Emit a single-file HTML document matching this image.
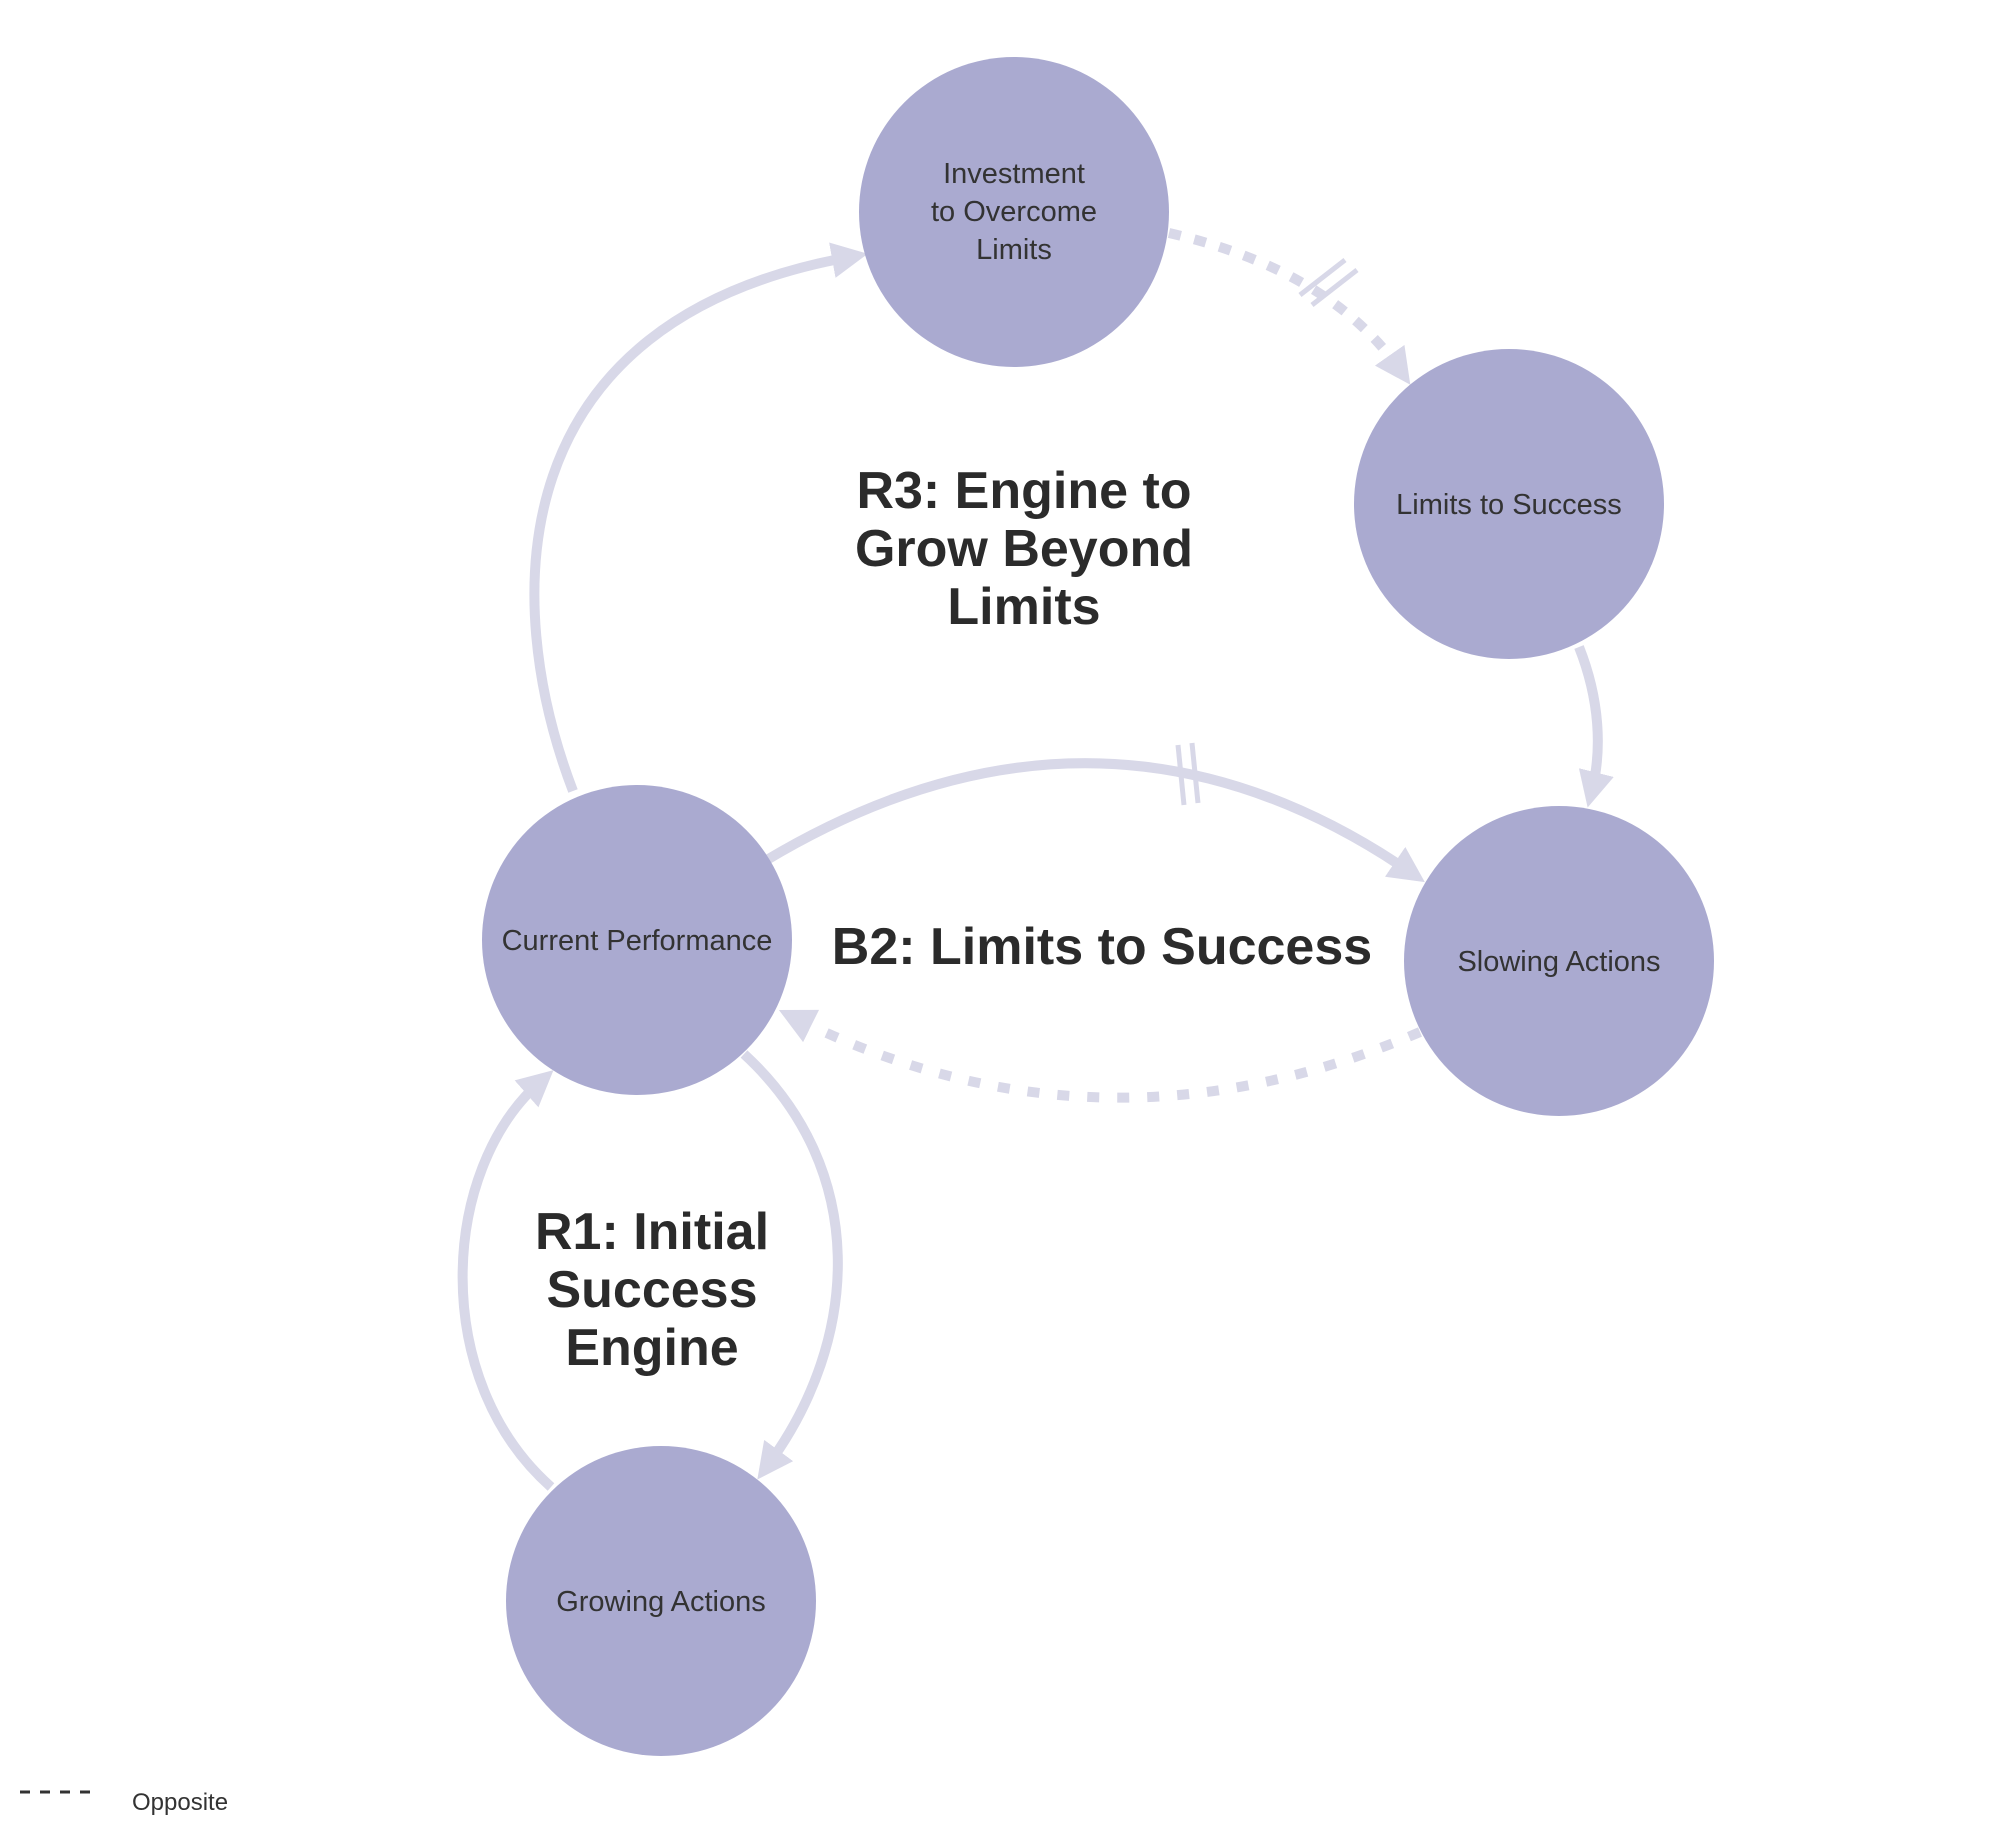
<!DOCTYPE html>
<html><head><meta charset="utf-8"><style>
html,body{margin:0;padding:0;background:#fff}
svg{display:block}
text{font-family:"Liberation Sans",sans-serif}
</style></head><body>
<svg width="2000" height="1840" viewBox="0 0 2000 1840" xmlns="http://www.w3.org/2000/svg">
<defs>
<marker id="a" viewBox="0 0 10 10" refX="5" refY="5" markerWidth="3.6" markerHeight="3.6" orient="auto" markerUnits="strokeWidth">
<path d="M0,0 L10,5 L0,10 z" fill="#d8d8e8"/></marker>
</defs>
<g fill="none" stroke="#d8d8e8" stroke-width="10">
<path d="M573,791 C500,600 500,320 850,257" marker-end="url(#a)"/>
<path d="M1169,233 Q1330,270 1400,370" stroke-dasharray="12,14" marker-end="url(#a)"/>
<path d="M1579,647 C1600,700 1602,750 1592,790" marker-end="url(#a)"/>
<path d="M765,861 Q1100,660 1410,872" marker-end="url(#a)"/>
<path d="M1420,1032 Q1100,1170 795,1018" stroke-dasharray="12,18" marker-end="url(#a)"/>
<path d="M744,1054 C870,1170 860,1340 768,1465" marker-end="url(#a)"/>
<path d="M551,1487 C430,1380 440,1170 540,1082" marker-end="url(#a)"/>
<path d="M1300,295 L1345,260 M1312,305 L1357,270" stroke-width="5"/>
<path d="M1178,745 L1184,805 M1192,743 L1198,803" stroke-width="5"/>
</g>
<g fill="#aaaad0">
<circle cx="1014" cy="212" r="155"/>
<circle cx="1509" cy="504" r="155"/>
<circle cx="637" cy="940" r="155"/>
<circle cx="1559" cy="961" r="155"/>
<circle cx="661" cy="1601" r="155"/>
</g>
<g fill="#333" font-size="29" text-anchor="middle">
<text x="1014" y="183">Investment</text>
<text x="1014" y="221">to Overcome</text>
<text x="1014" y="259">Limits</text>
<text x="1509" y="514">Limits to Success</text>
<text x="637" y="950">Current Performance</text>
<text x="1559" y="971">Slowing Actions</text>
<text x="661" y="1611">Growing Actions</text>
</g>
<g fill="#2b2b2b" font-size="52" font-weight="bold" text-anchor="middle">
<text x="1024" y="508">R3: Engine to</text>
<text x="1024" y="566">Grow Beyond</text>
<text x="1024" y="624">Limits</text>
<text x="1102" y="964">B2: Limits to Success</text>
<text x="652" y="1249">R1: Initial</text>
<text x="652" y="1307">Success</text>
<text x="652" y="1365">Engine</text>
</g>
<path d="M20,1792 L98,1792" stroke="#333" stroke-width="3" stroke-dasharray="10,10"/>
<text x="132" y="1810" font-size="24" fill="#333">Opposite</text>
</svg>
</body></html>
